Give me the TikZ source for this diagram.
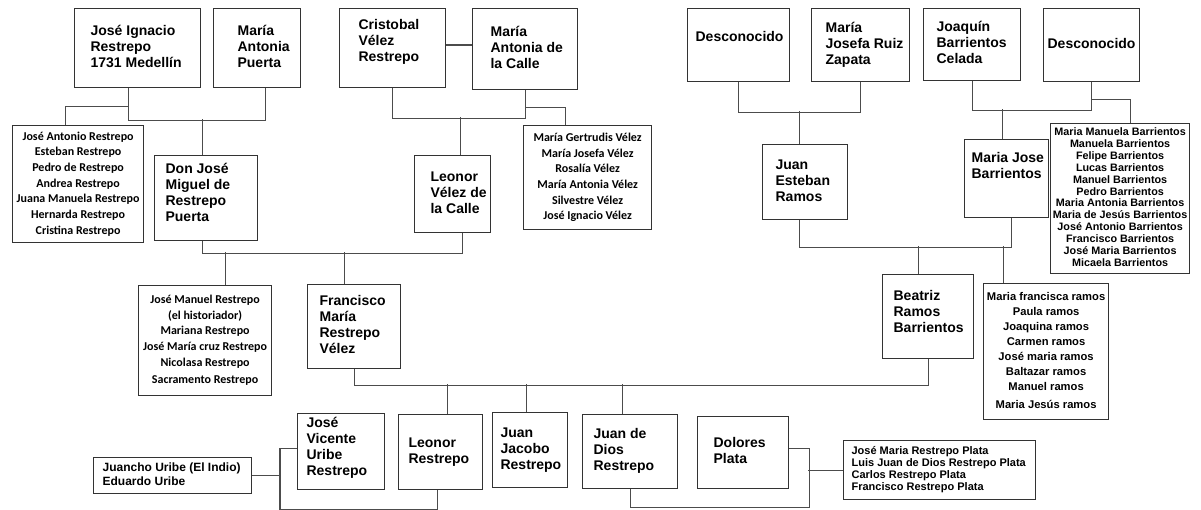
\documentclass[tikz,border=0pt]{standalone}
\usepackage{fontspec}
\setmainfont{Liberation Sans}
\newfontfamily\calibri{Carlito}
\newcommand\namebox[2]{\hbox to #1{\begin{tabular}{@{}l@{}}#2\end{tabular}\hss}}
\newcommand\sibbox[2]{\hbox to #1{\hss\begin{tabular}{@{}c@{}}#2\end{tabular}\hss}}
\tikzset{
  person/.style 2 args={draw=black!80, line width=1.2pt, anchor=north west,
    inner xsep=#1, inner ysep=2pt, minimum height=#2,
    font=\bfseries\fontsize{14}{16}\selectfont},
  sibs/.style={draw=black!80, line width=1.2pt, anchor=north west,
    inner xsep=2pt, inner ysep=2pt, minimum height=#1},
  calfont/.style={font=\calibri\bfseries\fontsize{12}{15.7}\selectfont},
  link/.style={draw=black!70, line width=1.2pt}
}
\begin{document}
\begin{tikzpicture}[x=1pt,y=-1pt]
\fill[white] (0,0) rectangle (1201,510);
\useasboundingbox (0,0) rectangle (1201,510);

\node[person={16pt}{79pt}] (jir) at (74,8) {\namebox{94pt}{José Ignacio\\Restrepo\\1731 Medellín}};
\node[person={24pt}{79pt}] (map) at (213,8) {\namebox{39pt}{María\\Antonia\\Puerta}};
\node[person={19pt}{79pt}, text depth=32.5pt] (cvr) at (339,8) {\namebox{68pt}{Cristobal\\Vélez\\Restrepo}};
\node[person={18pt}{81pt}] (madc) at (472,8) {\namebox{69pt}{María\\Antonia de\\la Calle}};
\node[person={11pt}{85pt}, text depth=36.5pt] (djm) at (154,155) {\namebox{81pt}{Don José\\Miguel de\\Restrepo\\Puerta}};
\node[person={16pt}{77pt}] (lvc) at (414,155) {\namebox{44pt}{Leonor\\Vélez de\\la Calle}};
\node[person={12pt}{84pt}] (fmr) at (307,284) {\namebox{69pt}{Francisco\\María\\Restrepo\\Vélez}};

\node[person={8pt}{73pt}, text depth=18.5pt] (d1) at (687,8) {\namebox{86pt}{Desconocido}};
\node[person={14pt}{73pt}] (mjr) at (811,8) {\namebox{70pt}{María\\Josefa Ruiz\\Zapata}};
\node[person={13pt}{75pt}] (jer) at (762,144) {\namebox{59pt}{Juan\\Esteban\\Ramos}};
\node[person={13pt}{72pt}] (jbc) at (923,8) {\namebox{71pt}{Joaquín\\Barrientos\\Celada}};
\node[person={4pt}{73pt}] (d2) at (1043,8) {\namebox{88pt}{Desconocido}};
\node[person={7pt}{78pt}, text depth=34.5pt] (mjb) at (964,139) {\namebox{70pt}{Maria Jose\\Barrientos}};
\node[person={11pt}{84pt}, text depth=27.5pt] (brb) at (882,274) {\namebox{69pt}{Beatriz\\Ramos\\Barrientos}};

\node[person={9pt}{76pt}, text depth=34.5pt] (jvu) at (297,413) {\namebox{69pt}{José\\Vicente\\Uribe\\Restrepo}};
\node[person={10pt}{75pt}] (lr) at (398,414) {\namebox{64pt}{Leonor\\Restrepo}};
\node[person={8pt}{75pt}] (jj) at (492,412) {\namebox{59pt}{Juan\\Jacobo\\Restrepo}};
\node[person={11pt}{74pt}] (jdd) at (582,414) {\namebox{73pt}{Juan de\\Dios\\Restrepo}};
\node[person={16pt}{72pt}] (dp) at (697,416) {\namebox{59pt}{Dolores\\Plata}};

\node[sibs=117pt, calfont] (rk1) at (12,125) {\sibbox{127pt}{José Antonio Restrepo\\Esteban Restrepo\\Pedro de Restrepo\\Andrea Restrepo\\Juana Manuela Restrepo\\Hernarda Restrepo\\Cristina Restrepo}};
\node[sibs=104pt, calfont] (vk) at (523,125) {\sibbox{124pt}{María Gertrudis Vélez\\María Josefa Vélez\\Rosalía Vélez\\María Antonia Vélez\\Silvestre Vélez\\José Ignacio Vélez}};
\node[sibs=110pt, calfont] (rk2) at (138,285) {\sibbox{129pt}{José Manuel Restrepo\\(el historiador)\\Mariana Restrepo\\José María cruz Restrepo\\Nicolasa Restrepo\\[2pt]Sacramento Restrepo}};
\node[sibs=150pt, font=\bfseries\fontsize{10.8}{11.9}\selectfont] (bk) at (1050,123) {\sibbox{135pt}{Maria Manuela Barrientos\\Manuela Barrientos\\Felipe Barrientos\\Lucas Barrientos\\Manuel Barrientos\\Pedro Barrientos\\Maria Antonia Barrientos\\Maria de Jesús Barrientos\\José Antonio Barrientos\\Francisco Barrientos\\José Maria Barrientos\\Micaela Barrientos}};
\node[sibs=136pt, font=\bfseries\fontsize{11.2}{14.9}\selectfont] (rk) at (983,283) {\sibbox{121pt}{Maria francisca ramos\\Paula ramos\\Joaquina ramos\\Carmen ramos\\José maria ramos\\Baltazar ramos\\Manuel ramos\\[3pt]Maria Jesús ramos}};
\node[person={8pt}{59pt}, font=\bfseries\fontsize{11}{12}\selectfont] (pk) at (843,440) {\namebox{176pt}{José Maria Restrepo Plata\\Luis Juan de Dios Restrepo Plata\\Carlos Restrepo Plata\\Francisco Restrepo Plata}};
\node[person={9pt}{36pt}, font=\bfseries\fontsize{12}{14}\selectfont] (jk) at (93,457) {\namebox{140pt}{Juancho Uribe (El Indio)\\Eduardo Uribe}};

\draw[link] ([xshift=-9pt]jir.south) -- ++(0,32) -| ([xshift=8pt]map.south);
\draw[link] ([xshift=-9pt]jir.south) ++(0,18) -| ([xshift=-13pt]rk1.north);
\draw[link] ([xshift=-4pt]djm.north) -- ++(0,-36);
\draw[link] ([yshift=3pt]cvr.east) -- ([yshift=3pt]cvr.east -| madc.west);
\draw[link] (cvr.south) -- ++(0,30) -| (madc.south);
\draw[link] ([xshift=8pt]lvc.north) -- ++(0,-38);
\draw[link] (madc.south) ++(0,17) -| ([xshift=-22pt]vk.north);
\draw[link] ([xshift=-4pt]djm.south) -- ++(0,12) -| ([xshift=10pt]lvc.south);
\draw[link] ([xshift=20pt]rk2.north) -- ++(0,-33);
\draw[link] ([xshift=-10pt]fmr.north) -- ++(0,-32);

\draw[link] (d1.south) -- ++(0,30) -| (mjr.south);
\draw[link] ([xshift=-6pt]jer.north) -- ++(0,-33);
\draw[link] (jbc.south) -- ++(0,29) -| (d2.south);
\draw[link] ([xshift=-4pt]mjb.north) -- ++(0,-30);
\draw[link] (d2.south) ++(0,17) -| ([xshift=10pt]bk.north);
\draw[link] ([xshift=-6pt]jer.south) -- ++(0,27) -| ([xshift=5pt]mjb.south);
\draw[link] ([xshift=-10pt]brb.north) -- ++(0,-28);
\draw[link] ([xshift=-43pt]rk.north) -- ++(0,-37);

\draw[link] (fmr.south) -- ++(0,16) -| (brb.south);
\draw[link] ([xshift=7pt]lr.north) -- ++(0,-30);
\draw[link] ([xshift=-4pt]jj.north) -- ++(0,-28);
\draw[link] ([xshift=-8pt]jdd.north) -- ++(0,-30);
\draw[link] ([xshift=-3pt]lr.south) -- ++(0,19) -| ([xshift=-17pt,yshift=3pt]jvu.west) -- ([yshift=3pt]jvu.west);
\draw[link] (jk.east) -- ++(29,0);
\draw[link] (jdd.south) -- ++(0,18) -| ([xshift=20pt,yshift=4pt]dp.east) -- ([yshift=4pt]dp.east);
\draw[link] (pk.west) -- ++(-35,0);
\end{tikzpicture}
\end{document}
